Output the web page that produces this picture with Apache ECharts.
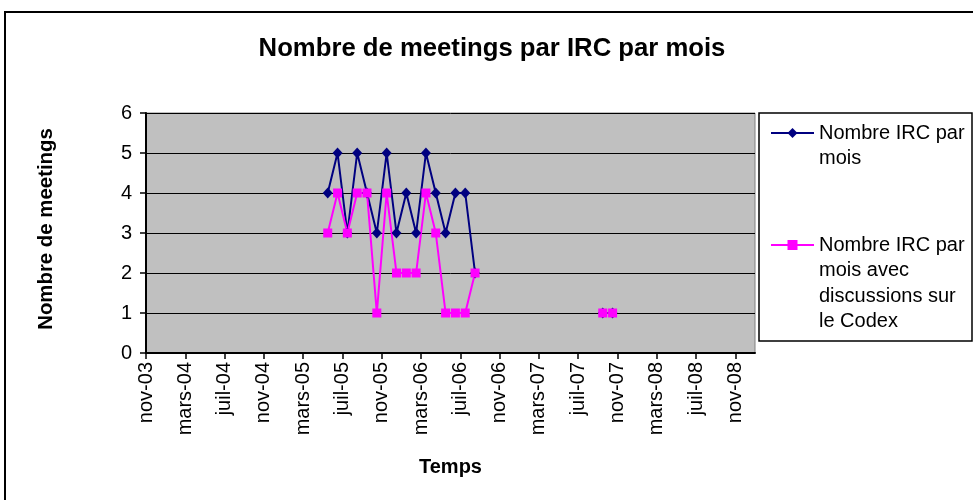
<!DOCTYPE html>
<html><head><meta charset="utf-8">
<script src="https://cdn.jsdelivr.net/npm/echarts@6/dist/echarts.min.js"></script>
<style>html,body{margin:0;padding:0;background:#fff}#c{width:973px;height:500px}</style>
</head><body><div id="c"></div>
<script>
// ---- data ----
const axisStart = '2003-11';          // first month band of the time axis
const axisEnd = '2008-12';            // last month band of the time axis
const tickLabels = ['nov-03','mars-04','juil-04','nov-04','mars-05','juil-05','nov-05','mars-06','juil-06','nov-06','mars-07','juil-07','nov-07','mars-08','juil-08','nov-08'];
const dataStart = '2005-05';          // month of the first value below (one value per month)
const ircParMois = [4,5,3,5,4,3,5,3,4,3,5,4,3,4,4,2, null,null,null,null,null,null,null,null,null,null,null,null, 1,1];
const ircCodex   = [3,4,3,4,4,1,4,2,2,2,4,3,1,1,1,2, null,null,null,null,null,null,null,null,null,null,null,null, 1,1];
const seriesNames = ['Nombre IRC par mois', 'Nombre IRC par mois avec discussions sur le Codex'];
const legendLines = [['Nombre IRC par','mois'], ['Nombre IRC par','mois avec','discussions sur','le Codex']];
const yTicks = [0,1,2,3,4,5,6];

// ---- helpers ----
function monthNo(s){ const [y,m] = s.split('-').map(Number); return y*12 + (m-1); }
const axisLen = monthNo(axisEnd) - monthNo(axisStart) + 1;
const offset = monthNo(dataStart) - monthNo(axisStart);
function toPoints(arr){ return arr.map((v,i)=>[offset + i + 0.5, v]); }
const tickStep = 4;
const tickValues = tickLabels.map((_,k)=>k*tickStep);
// legend text is vertically centred on its icon: pad with empty lines so the first line sits on the icon
function legendText(lines){ return new Array(lines.length-1).fill('').concat(lines).join('\n'); }

const FONT = '"Liberation Sans", Arial, sans-serif';
const LH = 25.6;

const chart = echarts.init(document.getElementById('c'), null, {renderer:'canvas'});
const legendBase = {left:770, orient:'vertical', padding:0, itemGap:0, itemWidth:43, itemHeight:12.5,
  selectedMode:false, z:10, textStyle:{fontFamily:FONT, fontSize:20, lineHeight:LH, color:'#000'}};
chart.setOption({
  animation:false,
  backgroundColor:'#fff',
  textStyle:{fontFamily:FONT, color:'#000'},
  title:{
    text:'Nombre de meetings par IRC par mois',
    left:487, top:31, textAlign:'center',
    textStyle:{fontFamily:FONT, fontSize:25.7, fontWeight:'bold', color:'#000'}
  },
  graphic:[
    {type:'rect', z:0, shape:{x:5, y:12, width:1100, height:700}, style:{fill:'none', stroke:'#000', lineWidth:2}},
    {type:'rect', z:1, shape:{x:759, y:113, width:213, height:228}, style:{fill:'#fff', stroke:'#000', lineWidth:1.5}}
  ],
  grid:{left:146, top:113, width:609, height:240, show:true, backgroundColor:'#C0C0C0', borderColor:'#808080', borderWidth:1},
  xAxis:{
    type:'value', min:0, max:axisLen,
    name:'Temps', nameLocation:'middle', nameGap:104,
    nameTextStyle:{fontFamily:FONT, fontSize:20, fontWeight:'bold', color:'#000'},
    axisLine:{lineStyle:{color:'#000', width:2}},
    axisTick:{show:true, length:6, customValues:tickValues, lineStyle:{color:'#000', width:1.5}},
    axisLabel:{customValues:tickValues, rotate:90, margin:9, fontSize:20, color:'#000', fontFamily:FONT,
      formatter:(v)=> tickLabels[Math.round(v/tickStep)] || ''},
    splitLine:{show:false}
  },
  yAxis:{
    type:'value', min:yTicks[0], max:yTicks[yTicks.length-1], interval:1,
    name:'Nombre de meetings', nameLocation:'middle', nameRotate:90, nameGap:90,
    nameTextStyle:{fontFamily:FONT, fontSize:20.4, fontWeight:'bold', color:'#000', padding:[0,0,0,8]},
    axisLine:{show:true, lineStyle:{color:'#000', width:2}},
    axisTick:{show:true, length:6, lineStyle:{color:'#000', width:1.5}},
    axisLabel:{margin:14, fontSize:20, color:'#000', fontFamily:FONT},
    splitLine:{show:true, lineStyle:{color:'#000', width:1}}
  },
  legend:[
    Object.assign({}, legendBase, {data:[{name:seriesNames[0]}], top:94.6, formatter:()=>legendText(legendLines[0])}),
    Object.assign({}, legendBase, {data:[{name:seriesNames[1]}], top:155.4, formatter:()=>legendText(legendLines[1])})
  ],
  series:[
    {name:seriesNames[0], type:'line', data:toPoints(ircParMois), connectNulls:false,
     symbol:'diamond', symbolSize:[10,11], showAllSymbol:true,
     lineStyle:{color:'#000080', width:2}, itemStyle:{color:'#000080'}},
    {name:seriesNames[1], type:'line', data:toPoints(ircCodex), connectNulls:false,
     symbol:'rect', symbolSize:9, showAllSymbol:true,
     lineStyle:{color:'#FF00FF', width:2}, itemStyle:{color:'#FF00FF'}}
  ]
});
</script></body></html>
